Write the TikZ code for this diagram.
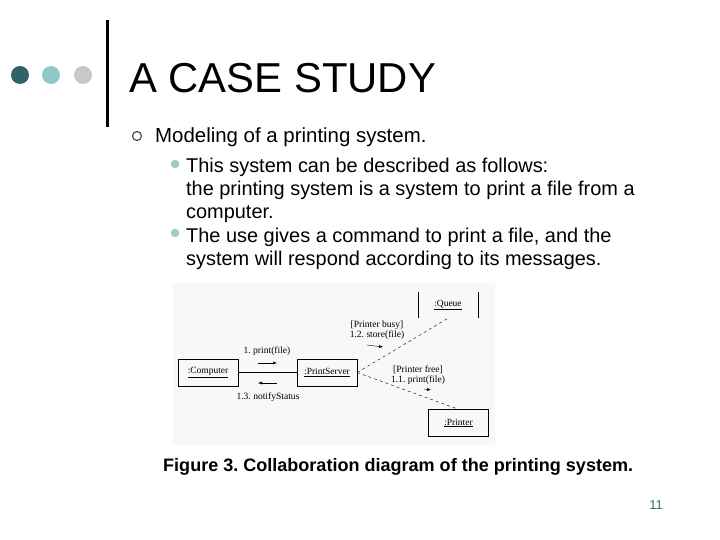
\documentclass[tikz,border=0pt]{standalone}
\usepackage{fontspec}
\setmainfont{Liberation Sans}
\newfontfamily\diagfont{Liberation Serif}
\usetikzlibrary{arrows.meta,positioning}
\definecolor{darkteal}{HTML}{2E6468}
\definecolor{lightteal}{HTML}{8FC9CC}
\definecolor{dotgray}{HTML}{C8C8C8}
\definecolor{bulletteal}{HTML}{A3CACB}
\definecolor{pagenum}{HTML}{3C6E70}
\definecolor{figback}{HTML}{F8F8F8}
\frenchspacing
\tikzset{obj/.style={draw,minimum width=60bp,minimum height=27bp,inner sep=0pt,
  font=\diagfont\fontsize{9.5}{10}\selectfont},
  msg/.style={inner sep=0pt,align=center,font=\diagfont\fontsize{9.6}{10}\selectfont},
  flow/.style={-{Latex[length=4bp,width=3bp]},thin},
  link/.style={thin},
  body/.style={anchor=north west,inner sep=0pt,align=left,font=\fontsize{20}{23.2}\selectfont}}

\begin{document}
\begin{tikzpicture}[x=1bp,y=-1bp]
\fill[white] (0,0) rectangle (720,540);
% header
\fill[darkteal] (20,75) circle (9);
\fill[lightteal] (51,75) circle (9);
\fill[dotgray] (83,75) circle (9);
\draw[line width=3bp] (107,20)--(107,127);
\node[anchor=base west,inner sep=0pt,font=\fontsize{42}{42}\selectfont] (title) at (129,93) {A CASE STUDY};
% bullets
\draw[line width=1.1bp,black!75] (137,136) circle (4.5);
\node[anchor=base west,inner sep=0pt,font=\fontsize{20.5}{24}\selectfont] (lvl1) at (155,143) {Modeling of a printing system.};
\fill[bulletteal] (175,164) circle (4.3);
\fill[bulletteal] (175,233) circle (4.3);
\node[body] (item1) at (186,157.5) {This system can be described as follows:\\the printing system is a system to print a file from a\\computer.};
\node[body] (item2) at (186,227.5) {The use gives a command to print a file, and the\\system will respond according to its messages.};
% collaboration diagram
\fill[figback] (173,283) rectangle (495,445);
\node[obj] (comp) at (208,372.5) {\underline{:Computer}};
\node[obj] (server) at (327,372.5) {\underline{:PrintServer}};
\node[obj,draw=none,minimum height=26bp] (queue) at (448,305) {\underline{:Queue}};
\node[obj] (printer) at (458.5,423) {\underline{:Printer}};
\draw[link] (queue.north west)--(queue.south west);
\draw[link] (queue.north east)--(queue.south east);
\draw[link] (comp)--(server);
\draw[link,dashed] (server.east)--(queue.south);
\draw[link,dashed] (server.east)--(printer.north);
\node[msg] (m1) at (267,351) {1. print(file)};
\node[msg] (m13) at (268,397) {1.3. notifyStatus};
\node[msg] (m12) at (377,330) {[Printer busy]\\1.2. store(file)};
\node[msg] (m11) at (418,375) {[Printer free]\\1.1. print(file)};
\coordinate (a1s) at (258,363); \coordinate (a1e) at (277,363);
\coordinate (a13s) at (277,383); \coordinate (a13e) at (258,383);
\coordinate (a12s) at (367,345); \coordinate (a12e) at (383,347);
\coordinate (a11s) at (424,389); \coordinate (a11e) at (431,390);
\draw[flow] (a1s)--(a1e);
\draw[flow] (a13s)--(a13e);
\draw[flow] (a12s)--(a12e);
\draw[flow] (a11s)--(a11e);
\node[anchor=base west,inner sep=0pt,font=\bfseries\fontsize{18.1}{19}\selectfont] (caption) at (163,471)
  {Figure 3. Collaboration diagram of the printing system.};
\node[anchor=base east,inner sep=0pt,text=pagenum,font=\fontsize{13}{13}\selectfont] (page) at (663,509) {11};
\end{tikzpicture}
\end{document}
